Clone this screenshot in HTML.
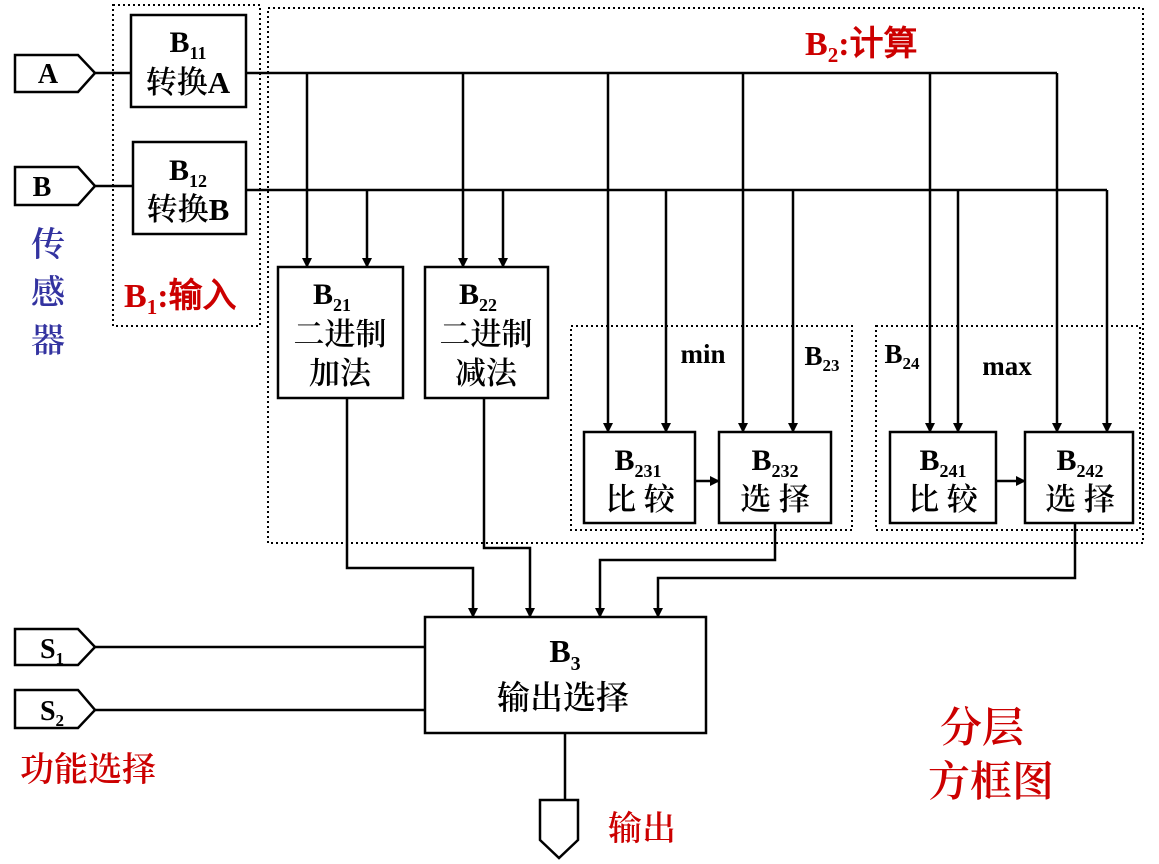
<!DOCTYPE html>
<html><head><meta charset="utf-8"><style>
html,body{margin:0;padding:0;background:#fff;}
svg{display:block;}
.c{font-family:"Liberation Serif","Noto Serif CJK SC","Noto Sans CJK SC",serif;font-weight:600;}
.b{font-family:"Liberation Serif",serif;font-weight:bold;}
</style></head><body>
<svg width="1159" height="864" viewBox="0 0 1159 864" xmlns="http://www.w3.org/2000/svg">
<defs><marker id="ar" markerWidth="10" markerHeight="10" refX="9" refY="5" orient="auto" markerUnits="userSpaceOnUse"><path d="M0,0 L10,5 L0,10 z" fill="#000"/></marker></defs>
<g fill="none" stroke="#000" stroke-width="2" stroke-dasharray="2,3">
<rect x="113" y="5" width="147" height="321"/>
<rect x="268" y="8" width="875" height="535"/>
<rect x="571" y="326" width="281" height="204"/>
<rect x="876" y="326" width="264" height="204"/>
</g>
<g fill="#fff" stroke="#000" stroke-width="2.5">
<path d="M15,55 H78 L95,73 L78,92 H15 z"/>
<path d="M15,167 H78 L95,186 L78,205 H15 z"/>
<path d="M15,629 H78 L95,647 L78,665 H15 z"/>
<path d="M15,690 H78 L95,710 L78,728 H15 z"/>
<path d="M540,800 H578 V840 L559,858 L540,840 z"/>
<rect x="131" y="15" width="115" height="92"/>
<rect x="133" y="142" width="113" height="92"/>
<rect x="278" y="267" width="125" height="131"/>
<rect x="425" y="267" width="123" height="131"/>
<rect x="584" y="432" width="111" height="91"/>
<rect x="719" y="432" width="112" height="91"/>
<rect x="890" y="432" width="106" height="91"/>
<rect x="1025" y="432" width="108" height="91"/>
<rect x="425" y="617" width="281" height="116"/>
</g>
<g fill="none" stroke="#000" stroke-width="2.5">
<path d="M95,73 H131 M95,186 H133 M246,73 H1057 M246,190 H1107"/>
<path d="M95,647 H425 M95,710 H425 M565,733 V800"/>
</g>
<g fill="none" stroke="#000" stroke-width="2.5" marker-end="url(#ar)">
<path d="M307,73 V267"/><path d="M367,190 V267"/>
<path d="M463,73 V267"/><path d="M503,190 V267"/>
<path d="M608,73 V432"/><path d="M666,190 V432"/>
<path d="M743,73 V432"/><path d="M793,190 V432"/>
<path d="M930,73 V432"/><path d="M958,190 V432"/>
<path d="M1057,73 V432"/><path d="M1107,190 V432"/>
<path d="M695,481 H719"/><path d="M996,481 H1025"/>
<path d="M347,398 V568 H473 V617"/>
<path d="M484,398 V548 H530 V617"/>
<path d="M775,523 V560 H600 V617"/>
<path d="M1075,523 V578 H658 V617"/>
</g>
<g class="b" font-size="28" text-anchor="middle">
<text x="48" y="83">A</text><text x="42" y="196">B</text>
<text x="52" y="658">S<tspan font-size="17" dy="6">1</tspan></text>
<text x="52" y="720">S<tspan font-size="17" dy="6">2</tspan></text>
</g>
<g class="c" font-size="31" text-anchor="middle">
<text x="188" y="52" class="b" font-size="30">B<tspan font-size="18" dy="7">11</tspan></text>
<text x="188" y="93">转换<tspan class="b">A</tspan></text>
<text x="188" y="180" class="b" font-size="30">B<tspan font-size="18" dy="7">12</tspan></text>
<text x="188" y="220">转换<tspan class="b">B</tspan></text>
<text x="332" y="304" class="b" font-size="30">B<tspan font-size="18" dy="7">21</tspan></text>
<text x="340" y="345">二进制</text><text x="340" y="384">加法</text>
<text x="478" y="304" class="b" font-size="30">B<tspan font-size="18" dy="7">22</tspan></text>
<text x="486" y="345">二进制</text><text x="486" y="384">减法</text>
<text x="638" y="470" class="b" font-size="30">B<tspan font-size="18" dy="7">231</tspan></text>
<text x="640" y="510">比 较</text>
<text x="775" y="470" class="b" font-size="30">B<tspan font-size="18" dy="7">232</tspan></text>
<text x="775" y="510">选 择</text>
<text x="943" y="470" class="b" font-size="30">B<tspan font-size="18" dy="7">241</tspan></text>
<text x="943" y="510">比 较</text>
<text x="1080" y="470" class="b" font-size="30">B<tspan font-size="18" dy="7">242</tspan></text>
<text x="1080" y="510">选 择</text>
<text x="565" y="662" class="b" font-size="32">B<tspan font-size="20" dy="8">3</tspan></text>
<text x="563" y="709" font-size="33">输出选择</text>
</g>
<g class="b" font-size="27" text-anchor="middle">
<text x="703" y="363">min</text>
<text x="1007" y="375">max</text>
<text x="822" y="365">B<tspan font-size="17" dy="6">23</tspan></text>
<text x="902" y="363">B<tspan font-size="17" dy="6">24</tspan></text>
</g>
<g class="c" fill="#cc0000" font-size="34">
<text x="805" y="55" class="b">B<tspan font-size="21" dy="7">2</tspan><tspan dy="-7">:</tspan><tspan font-weight="600">计算</tspan></text>
<text x="124" y="307" class="b">B<tspan font-size="21" dy="7">1</tspan><tspan dy="-7">:</tspan><tspan font-weight="600">输入</tspan></text>
<text x="20" y="781" font-size="34">功能选择</text>
<text x="940" y="742" font-size="42">分层</text>
<text x="928" y="796" font-size="42">方框图</text>
<text x="608" y="840" font-size="34">输出</text>
</g>
<g class="c" fill="#3333a0" font-size="34" text-anchor="middle">
<text x="48" y="256">传</text><text x="48" y="304">感</text><text x="48" y="352">器</text>
</g>
</svg>
</body></html>
